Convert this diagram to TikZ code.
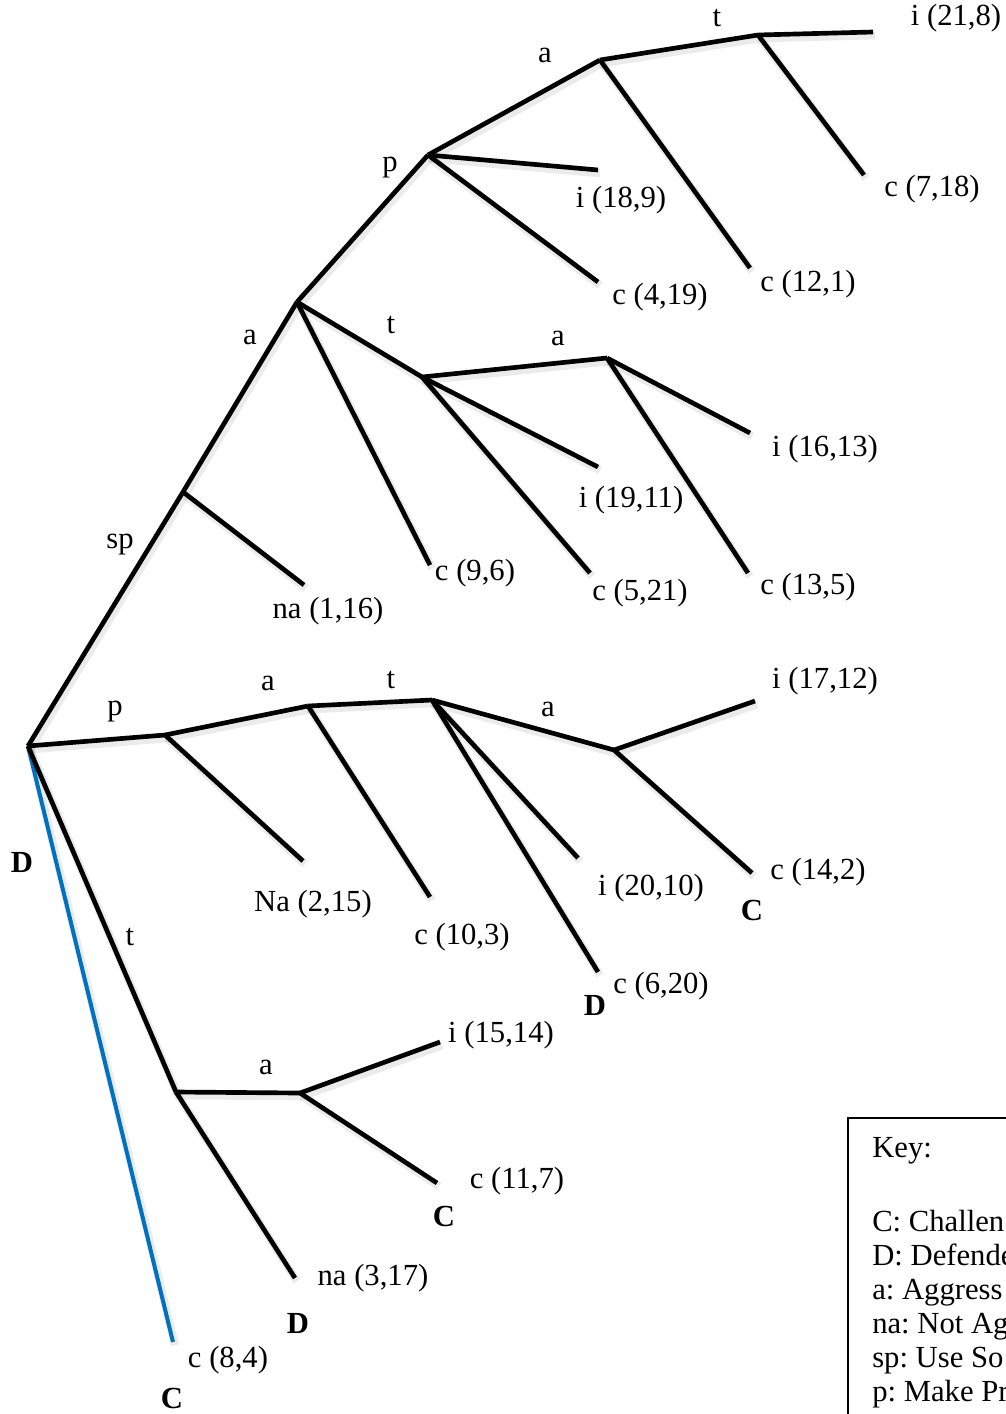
\documentclass[tikz,border=0pt]{standalone}
\usepackage{fontspec}
\setmainfont{Liberation Serif}
\frenchspacing
\begin{document}
\begin{tikzpicture}[x=0.75pt,y=-0.75pt,
  shadowed/.style={preaction={draw,line width=6pt,black,opacity=0.08,transform canvas={shift={(1.5pt,-2.5pt)}}}},
  edge/.style={shadowed,line width=3.5pt,black},
  blueedge/.style={shadowed,line width=3pt,color=keyblue},
  lbl/.style={font=\fontsize{23}{27}\selectfont,inner sep=0pt},
  plr/.style={font=\fontsize{23}{27}\selectfont\bfseries,inner sep=0pt}]
\definecolor{keyblue}{RGB}{0,112,192}
\useasboundingbox (0,0) rectangle (1006,1414);
\begin{scope}
\clip (0,0) rectangle (1006,1414);
% coordinates
\coordinate (R) at (28,746);
\coordinate (N1) at (183,492);
\coordinate (N2) at (297,302);
\coordinate (P1) at (428,155);
\coordinate (A1) at (600,60);
\coordinate (T1) at (758,35);
\coordinate (T2) at (422,377);
\coordinate (A2) at (607,358);
\coordinate (P2) at (165,735);
\coordinate (A3) at (308,706);
\coordinate (T3) at (432,700);
\coordinate (A4) at (614,750);
\coordinate (T4) at (176,1092);
\coordinate (A5) at (300,1093);
% leaves
\coordinate (L1) at (304,585);
\coordinate (L2) at (430,565);
\coordinate (L3) at (598,170);
\coordinate (L4) at (598,282);
\coordinate (L5) at (750,268);
\coordinate (L6) at (873,32);
\coordinate (L7) at (864,175);
\coordinate (L8) at (598,467);
\coordinate (L9) at (590,573);
\coordinate (L10) at (750,433);
\coordinate (L11) at (748,573);
\coordinate (L12) at (303,861);
\coordinate (L13) at (430,897);
\coordinate (L14) at (578,858);
\coordinate (L15) at (598,972);
\coordinate (L16) at (755,701);
\coordinate (L17) at (752,873);
\coordinate (L18) at (295,1278);
\coordinate (L19) at (440,1042);
\coordinate (L20) at (437,1183);
\coordinate (L21) at (173,1342);
% edges
\draw[blueedge] (R) -- (L21);
\draw[edge] (R) -- (T4);
\draw[edge] (R) -- (N1) -- (N2);
\draw[edge] (N1) -- (L1);
\draw[edge] (N2) -- (P1);
\draw[edge] (N2) -- (L2);
\draw[edge] (N2) -- (T2);
\draw[edge] (P1) -- (L3);
\draw[edge] (P1) -- (L4);
\draw[edge] (P1) -- (A1);
\draw[edge] (A1) -- (T1);
\draw[edge] (A1) -- (L5);
\draw[edge] (T1) -- (L6);
\draw[edge] (T1) -- (L7);
\draw[edge] (T2) -- (A2);
\draw[edge] (T2) -- (L8);
\draw[edge] (T2) -- (L9);
\draw[edge] (A2) -- (L10);
\draw[edge] (A2) -- (L11);
\draw[edge] (R) -- (P2);
\draw[edge] (P2) -- (L12);
\draw[edge] (P2) -- (A3);
\draw[edge] (A3) -- (T3);
\draw[edge] (A3) -- (L13);
\draw[edge] (T3) -- (A4);
\draw[edge] (T3) -- (L14);
\draw[edge] (T3) -- (L15);
\draw[edge] (A4) -- (L16);
\draw[edge] (A4) -- (L17);
\draw[edge] (T4) -- (A5);
\draw[edge] (T4) -- (L18);
\draw[edge] (A5) -- (L19);
\draw[edge] (A5) -- (L20);
% action labels
\node[lbl] (e1) at (120,545) {sp};
\node[lbl] (e2) at (250,337) {a};
\node[lbl] (e3) at (390,168) {p};
\node[lbl] (e4) at (545,55) {a};
\node[lbl] (e5) at (717,18) {t};
\node[lbl] (e6) at (391,325) {t};
\node[lbl] (e7) at (558,338) {a};
\node[lbl] (e8) at (115,712) {p};
\node[lbl] (e9) at (268,683) {a};
\node[lbl] (e10) at (391,680) {t};
\node[lbl] (e11) at (548,709) {a};
\node[lbl] (e12) at (130,937) {t};
\node[lbl] (e13) at (266,1067) {a};
% payoff labels
\node[lbl] (p1) at (328,611) {na (1,16)};
\node[lbl] (p2) at (475,573) {c (9,6)};
\node[lbl] (p3) at (621,200) {i (18,9)};
\node[lbl] (p4) at (660,297) {c (4,19)};
\node[lbl] (p5) at (808,284) {c (12,1)};
\node[lbl] (p6) at (956,18) {i (21,8)};
\node[lbl] (p7) at (932,189) {c (7,18)};
\node[lbl] (p8) at (631,500) {i (19,11)};
\node[lbl] (p9) at (640,593) {c (5,21)};
\node[lbl] (p10) at (825,449) {i (16,13)};
\node[lbl] (p11) at (808,587) {c (13,5)};
\node[lbl] (p12) at (313,904) {Na (2,15)};
\node[lbl] (p13) at (462,937) {c (10,3)};
\node[lbl] (p14) at (651,888) {i (20,10)};
\node[lbl] (p15) at (661,986) {c (6,20)};
\node[lbl] (p16) at (825,681) {i (17,12)};
\node[lbl] (p17) at (818,872) {c (14,2)};
\node[lbl] (p18) at (373,1278) {na (3,17)};
\node[lbl] (p19) at (501,1035) {i (15,14)};
\node[lbl] (p20) at (517,1181) {c (11,7)};
\node[lbl] (p21) at (228,1360) {c (8,4)};
% player labels
\node[plr] (d1) at (22,862) {D};
\node[plr] (d2) at (595,1005) {D};
\node[plr] (c1) at (752,910) {C};
\node[plr] (d3) at (298,1323) {D};
\node[plr] (c2) at (444,1216) {C};
\node[plr] (c3) at (172,1398) {C};
% key (cut off by the picture's right and bottom edges)
\draw[line width=0.8pt] (848,1500) -- (848,1118) -- (1100,1118);
\node[lbl,anchor=base west] (k0) at (872,1157) {Key:};
\node[lbl,anchor=base west] (k1) at (872,1231) {C: Challen};
\node[lbl,anchor=base west] (k2) at (872,1265) {D: Defende};
\node[lbl,anchor=base west] (k3) at (872,1299) {a: Aggress};
\node[lbl,anchor=base west] (k4) at (872,1333) {na: Not Ag};
\node[lbl,anchor=base west] (k5) at (872,1367) {sp: Use So};
\node[lbl,anchor=base west] (k6) at (872,1401) {p: Make Pr};
\end{scope}
\end{tikzpicture}
\end{document}
